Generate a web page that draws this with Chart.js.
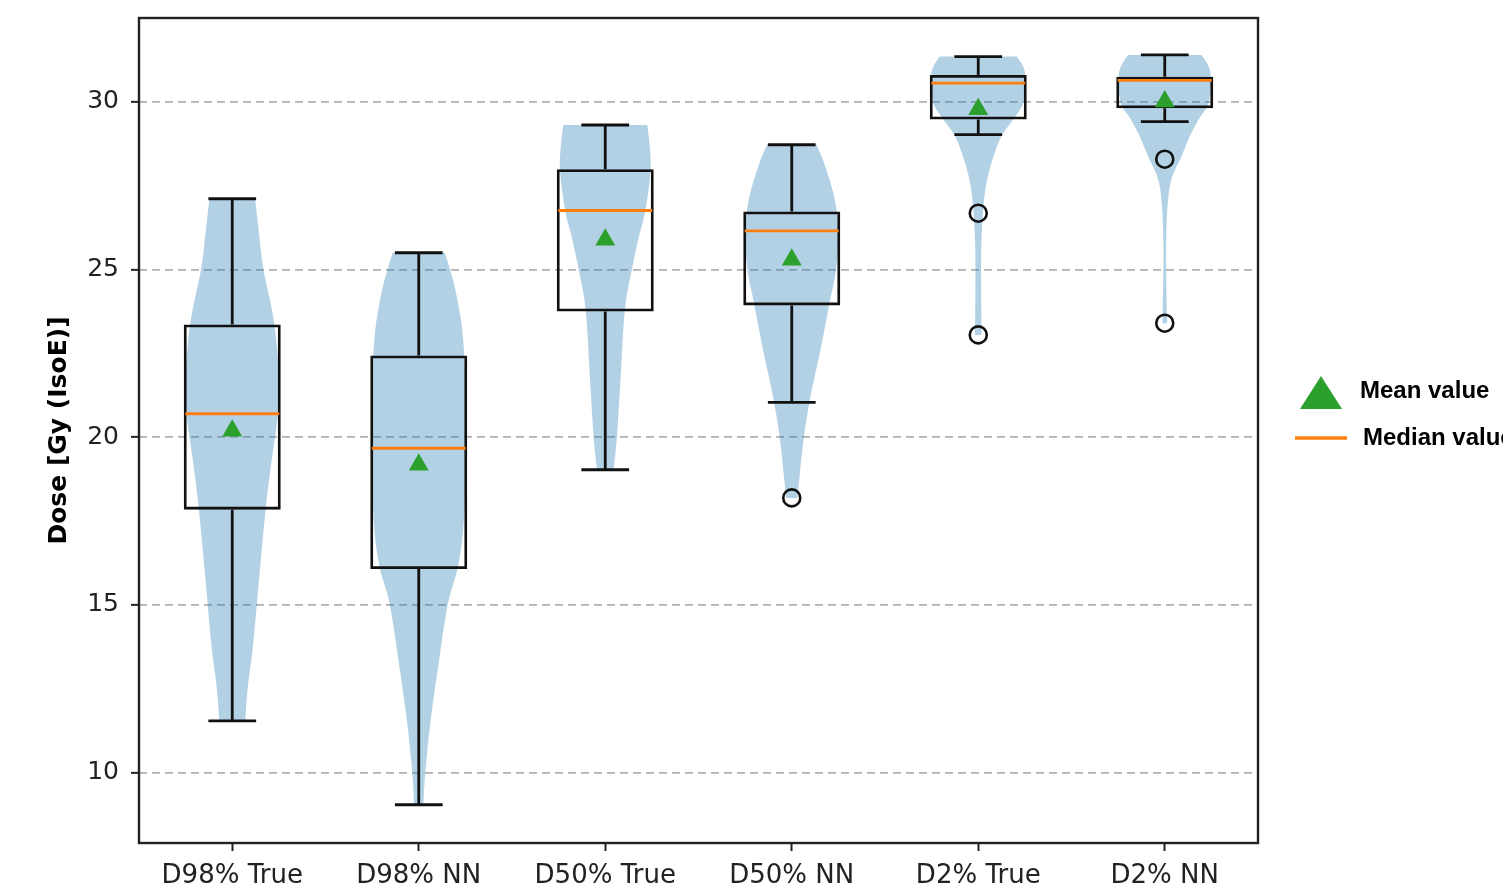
<!DOCTYPE html>
<html><head><meta charset="utf-8">
<script src="https://cdn.jsdelivr.net/npm/chart.js@4"></script>
<style>html,body{margin:0;padding:0;background:#fff;overflow:hidden}canvas{display:block}</style>
</head><body>
<canvas id="c" width="1503" height="888"></canvas>
<script>
const categories = ['D98% True','D98% NN','D50% True','D50% NN','D2% True','D2% NN'];
const whiskerLow  = [11.54, 9.04, 19.03, 21.04, 29.02, 29.41];
const q1          = [17.84, 16.07, 23.75, 23.93, 29.47, 29.81];
const median      = [20.70, 19.67, 26.76, 26.15, 30.56, 30.64];
const q3          = [23.36, 22.44, 27.99, 26.73, 30.80, 30.75];
const whiskerHigh = [27.11, 25.50, 29.31, 28.72, 31.35, 31.40];
const means       = [20.19, 19.18, 25.89, 25.29, 29.78, 30.01];
const outlierCats = ['D50% NN','D2% True','D2% True','D2% NN','D2% NN'];
const outlierVals = [18.19, 26.68, 23.05, 28.29, 23.40];
// violin shapes: dose levels and relative density (1 = widest)
const violinLevels = [
  [11.54, 12.5, 13.85, 16.0, 17.9, 19.15, 20.7, 21.8, 23.4, 25.0, 26.0, 27.11],
  [9.04, 10.0, 11.5, 13.2, 15.0, 16.2, 17.6, 19.7, 21.5, 23.1, 24.3, 25.0, 25.5],
  [19.03, 20.0, 21.8, 23.8, 25.0, 25.97, 26.76, 27.95, 28.74, 29.31],
  [18.19, 18.73, 20.0, 21.2, 22.7, 24.0, 25.0, 26.17, 27.16, 28.15, 28.72],
  [23.05, 24.88, 25.88, 26.88, 27.68, 28.38, 28.98, 29.48, 30.0, 30.88, 31.35],
  [23.40, 24.88, 25.88, 26.88, 27.68, 28.38, 28.98, 29.48, 30.0, 30.88, 31.40]
];
const violinDensity = [
  [0.28, 0.33, 0.45, 0.59, 0.72, 0.83, 0.98, 1.0, 0.90, 0.67, 0.58, 0.49],
  [0.10, 0.14, 0.25, 0.42, 0.62, 0.85, 0.97, 1.0, 1.0, 0.94, 0.80, 0.67, 0.56],
  [0.18, 0.25, 0.33, 0.42, 0.57, 0.72, 0.86, 0.97, 0.95, 0.90],
  [0.12, 0.16, 0.26, 0.40, 0.63, 0.81, 0.95, 1.0, 0.91, 0.70, 0.53],
  [0.07, 0.06, 0.07, 0.11, 0.19, 0.33, 0.50, 0.75, 0.97, 1.0, 0.83],
  [0.05, 0.03, 0.03, 0.06, 0.14, 0.36, 0.54, 0.73, 0.95, 0.98, 0.79]
];
const yTicks = [10, 15, 20, 25, 30];
const yTitle = 'Dose [Gy (IsoE)]';
const legendLabels = ['Mean value', 'Median value'];

const BLUE = 'rgba(31,119,180,0.34)';
const ORANGE = '#ff7f0e';
const GREEN = '#2ca02c';
const INK = '#111';

function cr(p0, p1, p2, p3, t) {
  const t2 = t * t, t3 = t2 * t;
  return 0.5 * ((2 * p1) + (-p0 + p2) * t + (2 * p0 - 5 * p1 + 4 * p2 - p3) * t2 + (-p0 + 3 * p1 - 3 * p2 + p3) * t3);
}
function smooth(lv, dn) {
  const out = [];
  const n = lv.length;
  for (let k = 0; k < n - 1; k++) {
    const i0 = Math.max(0, k - 1), i3 = Math.min(n - 1, k + 2);
    for (let s = 0; s < 12; s++) {
      const t = s / 12;
      out.push([cr(lv[i0], lv[k], lv[k + 1], lv[i3], t), Math.max(0, cr(dn[i0], dn[k], dn[k + 1], dn[i3], t))]);
    }
  }
  out.push([lv[n - 1], dn[n - 1]]);
  return out;
}

const violinPlugin = {
  id: 'violins',
  beforeDatasetsDraw(chart) {
    const {ctx, chartArea} = chart;
    const xs = chart.scales.x, ys = chart.scales.y;
    const catW = xs.getPixelForValue(1) - xs.getPixelForValue(0);
    const half = catW * 0.25;
    ctx.save();
    ctx.beginPath();
    ctx.rect(chartArea.left, chartArea.top, chartArea.right - chartArea.left, chartArea.bottom - chartArea.top);
    ctx.clip();
    ctx.fillStyle = BLUE;
    categories.forEach((c, i) => {
      const cx = xs.getPixelForValue(i);
      const pts = smooth(violinLevels[i], violinDensity[i]);
      ctx.beginPath();
      pts.forEach((p, j) => {
        const px = cx + p[1] * half, py = ys.getPixelForValue(p[0]);
        if (j === 0) ctx.moveTo(px, py); else ctx.lineTo(px, py);
      });
      for (let j = pts.length - 1; j >= 0; j--) {
        ctx.lineTo(cx - pts[j][1] * half, ys.getPixelForValue(pts[j][0]));
      }
      ctx.closePath();
      ctx.fill();
    });
    ctx.restore();
  }
};

const boxPlugin = {
  id: 'boxparts',
  afterDatasetDraw(chart, args) {
    if (args.index !== 0) return;
    const {ctx} = chart;
    const xs = chart.scales.x, ys = chart.scales.y;
    const catW = xs.getPixelForValue(1) - xs.getPixelForValue(0);
    const capHalf = catW * 0.128;
    const meta = chart.getDatasetMeta(0);
    ctx.save();
    ctx.lineWidth = 2.8;
    ctx.strokeStyle = INK;
    ctx.lineCap = 'butt';
    categories.forEach((c, i) => {
      const cx = xs.getPixelForValue(i);
      const yl = ys.getPixelForValue(whiskerLow[i]);
      const yh = ys.getPixelForValue(whiskerHigh[i]);
      const y1 = ys.getPixelForValue(q1[i]);
      const y3 = ys.getPixelForValue(q3[i]);
      ctx.beginPath();
      ctx.moveTo(cx, y1); ctx.lineTo(cx, yl);
      ctx.moveTo(cx, y3); ctx.lineTo(cx, yh);
      ctx.moveTo(cx - capHalf, yl); ctx.lineTo(cx + capHalf, yl);
      ctx.moveTo(cx - capHalf, yh); ctx.lineTo(cx + capHalf, yh);
      ctx.stroke();
    });
    ctx.strokeStyle = ORANGE;
    ctx.lineWidth = 2.8;
    meta.data.forEach((el, i) => {
      const ym = ys.getPixelForValue(median[i]);
      ctx.beginPath();
      ctx.moveTo(el.x - el.width / 2 + 1.5, ym);
      ctx.lineTo(el.x + el.width / 2 - 1.5, ym);
      ctx.stroke();
    });
    ctx.restore();
  }
};

const framePlugin = {
  id: 'frame',
  afterDraw(chart) {
    const {ctx, chartArea: a} = chart;
    ctx.save();
    ctx.strokeStyle = '#222';
    ctx.lineWidth = 2.4;
    ctx.strokeRect(a.left, a.top, a.right - a.left, a.bottom - a.top);
    // legend
    const lx = a.right + 37;
    const y1 = 392, y2 = 438;
    ctx.fillStyle = GREEN;
    ctx.beginPath();
    ctx.moveTo(lx + 26, y1 - 16);
    ctx.lineTo(lx + 47, y1 + 17);
    ctx.lineTo(lx + 5, y1 + 17);
    ctx.closePath();
    ctx.fill();
    ctx.strokeStyle = ORANGE;
    ctx.lineWidth = 3.5;
    ctx.beginPath();
    ctx.moveTo(lx, y2); ctx.lineTo(lx + 52, y2);
    ctx.stroke();
    ctx.fillStyle = '#000';
    ctx.font = 'bold 24px "Liberation Sans", Arial, sans-serif';
    ctx.textBaseline = 'middle';
    ctx.textAlign = 'left';
    ctx.fillText(legendLabels[0], lx + 65, y1 - 1);
    ctx.fillText(legendLabels[1], lx + 68, y2);
    ctx.restore();
  }
};

new Chart(document.getElementById('c'), {
  type: 'bar',
  data: {
    labels: categories,
    datasets: [
      {
        type: 'bar',
        data: categories.map((c, i) => [q1[i], q3[i]]),
        backgroundColor: 'rgba(0,0,0,0)',
        borderColor: INK,
        borderWidth: 2.8,
        borderSkipped: false,
        barPercentage: 0.52,
        categoryPercentage: 1.0,
        order: 3
      },
      {
        type: 'line',
        data: outlierCats.map((c, i) => ({x: c, y: outlierVals[i]})),
        showLine: false,
        pointStyle: 'circle',
        pointRadius: 8.5,
        pointBorderWidth: 2.6,
        pointBorderColor: INK,
        pointBackgroundColor: 'rgba(0,0,0,0)',
        order: 2
      },
      {
        type: 'line',
        data: means,
        showLine: false,
        pointStyle: 'triangle',
        pointRadius: 11.5,
        pointBorderWidth: 0,
        pointBackgroundColor: GREEN,
        pointBorderColor: GREEN,
        order: 1
      }
    ]
  },
  options: {
    responsive: false,
    animation: false,
    devicePixelRatio: 1,
    layout: {padding: {top: 18, right: 245, left: 0, bottom: 0}},
    plugins: {legend: {display: false}, tooltip: {enabled: false}},
    scales: {
      x: {
        type: 'category',
        offset: true,
        afterFit: s => { s.height = 45; s.paddingLeft = 0; s.paddingRight = 0; },
        grid: {drawOnChartArea: false, offset: false, drawTicks: true, tickLength: 8, tickColor: '#222', tickWidth: 2},
        border: {display: false},
        ticks: {font: {family: '"DejaVu Sans"', size: 26}, color: '#222', padding: 10, maxRotation: 0, autoSkip: false}
      },
      y: {
        min: 7.9,
        max: 32.5,
        afterBuildTicks: s => { s.ticks = yTicks.map(v => ({value: v})); },
        afterFit: s => { s.width = 139; s.paddingTop = 0; s.paddingBottom = 0; },
        grid: {color: '#b0b0b0', lineWidth: 1.7, drawTicks: true, tickLength: 8, tickColor: '#222', tickWidth: 2, borderDash: [8, 5]},
        border: {display: false, dash: [8, 5]},
        ticks: {font: {family: '"DejaVu Sans"', size: 25}, color: '#222', padding: 12},
        title: {display: true, text: yTitle, font: {family: '"DejaVu Sans"', size: 25, weight: 'bold'}, color: '#000', padding: {top: 44, bottom: 0}}
      }
    }
  },
  plugins: [violinPlugin, boxPlugin, framePlugin]
});
</script>
</body></html>
